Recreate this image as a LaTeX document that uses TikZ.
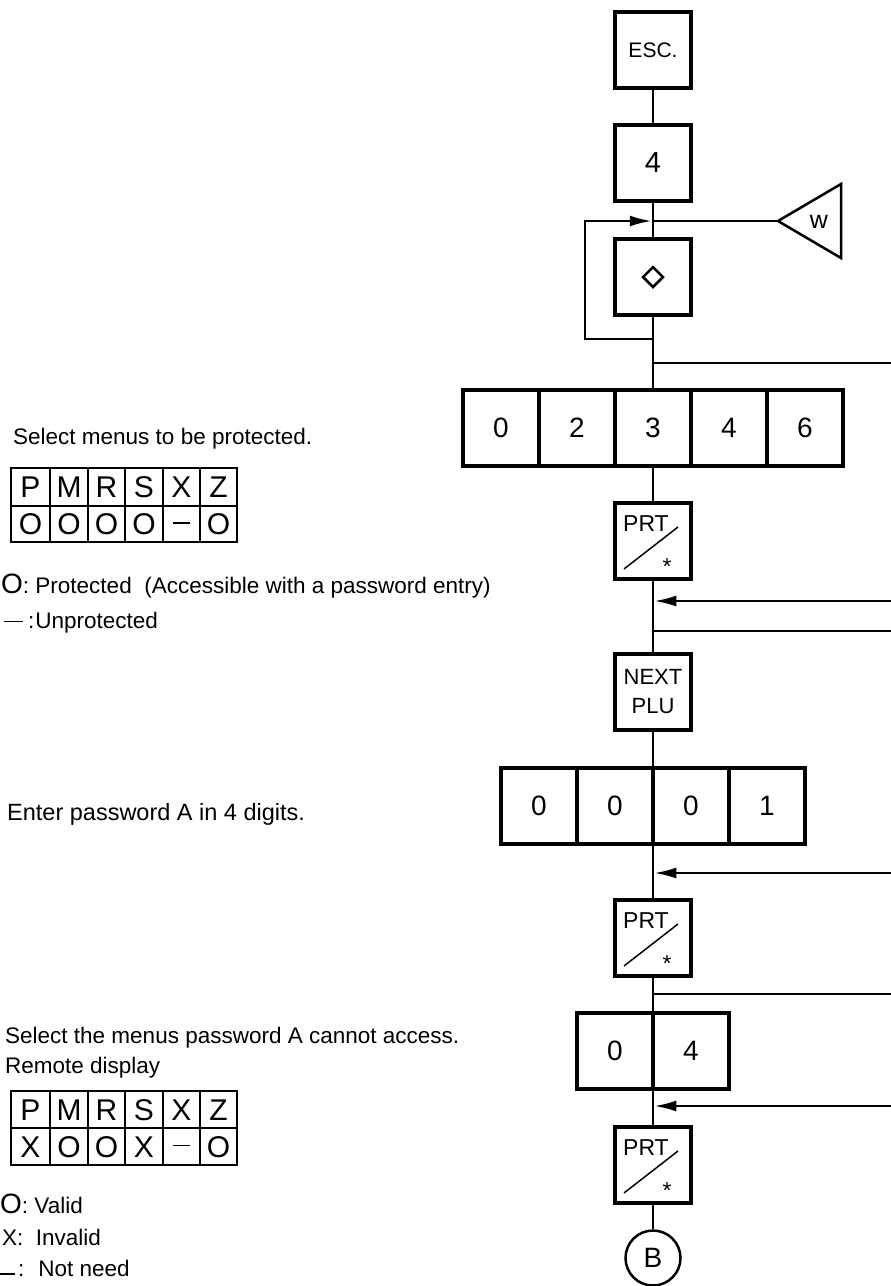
\documentclass[tikz,border=0pt]{standalone}
\usepackage{fontspec}
\setmainfont{Liberation Sans}
\usetikzlibrary{arrows.meta,shapes.geometric}
\newcommand\prtdeco[1]{%
  \node[anchor=base,inner sep=0pt,font=\fontsize{23}{23}\selectfont] (#1t) at ([shift={(-7,-9.5)}]#1.center) {PRT};
  \draw[line width=1.5pt] ([shift={(-29,28)}]#1.center) -- ([shift={(25,-14)}]#1.center);
  \node[anchor=base,inner sep=0pt,font=\fontsize{23}{23}\selectfont] (#1s) at ([shift={(14,33)}]#1.center) {*};
}
\begin{document}
\begin{tikzpicture}[x=1pt,y=-1pt,
  keybox/.style={draw,line width=4pt,minimum width=76pt,minimum height=76pt,inner sep=0pt,font=\fontsize{28}{30}\selectfont},
  thinkey/.style={draw,line width=3.3pt,minimum width=76pt,minimum height=76pt,inner sep=0pt},
  conn/.style={line width=2.5pt},
  arr/.style={line width=2.5pt,-{Latex[length=22pt,width=11pt]}},
  lbl/.style={anchor=base west,inner sep=0pt,font=\fontsize{22.5}{27}\selectfont},
  gridline/.style={line width=1.5pt},
  cell/.style={inner sep=0pt,text height=21.5pt,text depth=0pt,font=\fontsize{30}{30}\selectfont},
  dashcell/.style={inner sep=0pt}
]
\useasboundingbox (0,0) rectangle (891,1286);
\fill[white] (0,0) rectangle (891,1286);

% ---- flow column
\node[keybox,font=\fontsize{21}{24}\selectfont] (esc) at (653,50) {ESC.};
\node[keybox,font=\fontsize{29}{30}\selectfont] (k4) at (653,163) {4};
\coordinate (j1) at (653,221);
\node[keybox] (dia) at (653,277) {};
\node[diamond,draw,line width=2.5pt,minimum width=21pt,minimum height=21pt,inner sep=0pt] (diasym) at (dia.center) {};

\coordinate (wtip) at (778,221);
\coordinate (wtop) at (841,184);
\coordinate (wbot) at (841,258);
\draw[line width=2.5pt] (wtip) -- (wtop) -- (wbot) -- cycle;
\node[anchor=base,inner sep=0pt,font=\fontsize{25}{25}\selectfont] (wtxt) at (819,228) {w};

\draw[conn] (esc) -- (k4);
\draw[conn] (k4) -- (dia);
\draw[conn] (wtip) -- (j1);
\coordinate (j2) at (653,339);
\coordinate (j3) at (653,363);
\coordinate (loopA) at (585,339);
\coordinate (loopB) at (585,221);
\draw[arr] (j2) -- (loopA) -- (loopB) -- ([xshift=-1.25pt]j1);
\coordinate (e3) at (891,363);
\draw[conn] (j3) -- (e3);

\foreach \n/\x/\t in {a/501/0,b/577/2,c/653/3,d/729/4,e/805/6}
  \node[keybox] (r1\n) at (\x,428) {\t};
\draw[conn] (dia) -- (r1c);

\node[thinkey] (p1) at (653,541) {};
\prtdeco{p1}
\draw[conn] (r1c) -- (p1);
\coordinate (jA) at (653,601); \coordinate (eA) at (891,601);
\draw[arr] (eA) -- ([xshift=1.25pt]jA);
\coordinate (jB) at (653,631); \coordinate (eB) at (891,631);
\draw[conn] (jB) -- (eB);

\node[keybox,align=center,font=\fontsize{22}{29}\selectfont] (nx) at (653,692) {NEXT\\PLU};
\draw[conn] (p1) -- (nx);

\foreach \n/\x/\t in {a/539/0,b/615/0,c/691/0,d/767/1}
  \node[keybox] (r2\n) at (\x,805.5) {\t};
\draw[conn] (nx.south) -- (nx.south |- r2b.north);
\coordinate (jC) at (653,873); \coordinate (eC) at (891,873);
\draw[arr] (eC) -- ([xshift=1.25pt]jC);

\node[thinkey] (p2) at (653,938) {};
\prtdeco{p2}
\draw[conn] (p2.north |- r2b.south) -- (p2.north);
\coordinate (jD) at (653,994); \coordinate (eD) at (891,994);
\draw[conn] (jD) -- (eD);

\foreach \n/\x/\t in {a/615/0,b/691/4}
  \node[keybox] (r3\n) at (\x,1051) {\t};
\draw[conn] (p2.south) -- (p2.south |- r3a.north);
\coordinate (jE) at (653,1106); \coordinate (eE) at (891,1106);
\draw[arr] (eE) -- ([xshift=1.25pt]jE);

\node[thinkey] (p3) at (653,1165) {};
\prtdeco{p3}
\draw[conn] (p3.north |- r3a.south) -- (p3.north);
\node[circle,draw,line width=2.5pt,minimum size=55pt,inner sep=0pt,font=\fontsize{28}{28}\selectfont] (B) at (653,1258) {B};
\draw[conn] (p3) -- (B);

% ---- left texts
\node[lbl] (s1) at (13,444) {Select menus to be protected.};

\draw[gridline] (11,468) rectangle (237,542);
\draw[gridline] (11,506) -- (237,506);
\foreach \x in {50,88,125,163,200} \draw[gridline] (\x,468) -- (\x,542);
\foreach \i/\x/\a/\b in {1/30.5/P/O,2/69/M/O,3/106.5/R/O,4/144/S/O,6/218.5/Z/O} {
  \node[cell] (ta\i) at (\x,487) {\a};
  \node[cell] (tb\i) at (\x,524) {\b};
}
\node[cell] (ta5) at (181.5,487) {X};
\node[dashcell] (tb5) at (181.5,523) {\rule{17pt}{1.5pt}};

\node[lbl] (l1) at (1,593) {{\fontsize{28}{28}\selectfont O}:\ Protected\ \ (Accessible with a password entry)};
\node[lbl] (l2) at (4,628) {\rule[6pt]{19pt}{1.5pt}\hspace{5pt}:\hspace{1pt}Unprotected};

\node[lbl,font=\fontsize{23.5}{27}\selectfont] (s2) at (7,820) {Enter password A in 4 digits.};

\node[lbl] (s3) at (5,1043) {Select the menus password A cannot access.};
\node[lbl] (s4) at (5,1073) {Remote display};

\draw[gridline] (11,1091) rectangle (237,1165);
\draw[gridline] (11,1128) -- (237,1128);
\foreach \x in {50,88,125,163,200} \draw[gridline] (\x,1091) -- (\x,1165);
\foreach \i/\x/\a/\b in {1/30.5/P/X,2/69/M/O,3/106.5/R/O,4/144/S/X,6/218.5/Z/O} {
  \node[cell] (tc\i) at (\x,1109.5) {\a};
  \node[cell] (td\i) at (\x,1146.5) {\b};
}
\node[cell] (tc5) at (181.5,1109.5) {X};
\node[dashcell] (td5) at (181.5,1145.5) {\rule{17pt}{1.5pt}};

\node[lbl] (l3) at (0,1213) {{\fontsize{28}{28}\selectfont O}:\ Valid};
\node[lbl] (l4) at (2,1245) {X:\ \ Invalid};
\node[lbl] (l5) at (0,1276) {\rule[1.5pt]{15pt}{1.5pt}\hspace{3pt}:\hspace{14pt}Not need};
\end{tikzpicture}
\end{document}
